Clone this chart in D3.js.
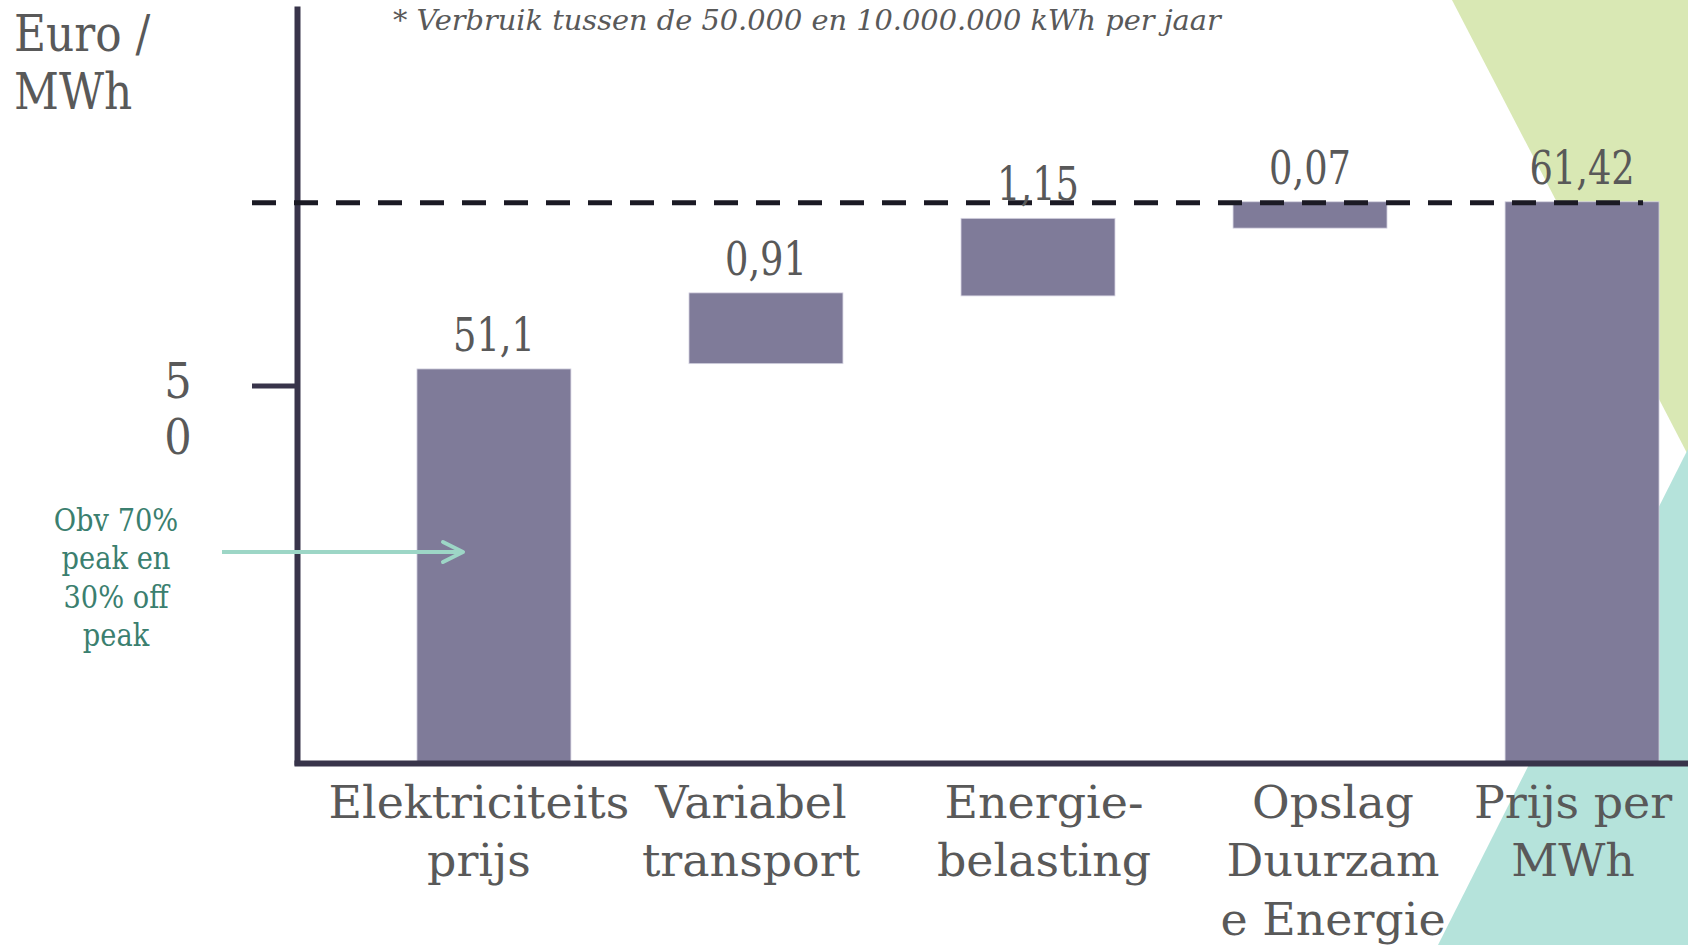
<!DOCTYPE html>
<html><head><meta charset="utf-8">
<script src="https://cdn.jsdelivr.net/npm/d3@7"></script>
<style>html,body{margin:0;padding:0;background:#fff;overflow:hidden} svg{display:block}</style>
</head><body>
<svg id="chart" width="1688" height="945"></svg>
<script>
// ---- data ----
const categories = ["Elektriciteits prijs", "Variabel transport", "Energie- belasting", "Opslag Duurzame Energie", "Prijs per MWh"];
const categoryLines = [["Elektriciteits", "prijs"], ["Variabel", "transport"], ["Energie-", "belasting"], ["Opslag", "Duurzam", "e Energie"], ["Prijs per", "MWh"]];
const valueLabels = ["51,1", "0,91", "1,15", "0,07", "61,42"];
// bar extents as drawn on the axis (Euro / MWh)
const barStart = [0, 52.9, 61.9, 70.9, 0];
const barEnd = [52.2, 62.3, 72.2, 74.4, 74.4];
const yTicks = [50];
const yTickLabelLines = [["5", "0"]];
const yAxisTitle = ["Euro /", "MWh"];
const footnote = "* Verbruik tussen de 50.000 en 10.000.000 kWh per jaar";
const annotationLines = ["Obv 70%", "peak en", "30% off", "peak"];

// ---- layout / styles ----
const FONT = "'DejaVu Serif', 'Liberation Serif', serif";
const TEXT = "#595959";
const AXIS = "#38344a";
const BAR = "#7f7b99";
const LABEL_DX = [-15, -15, 6, 23, -9]; // text boxes of the category labels are not centred on the bars

const svg = d3.select("#chart");
const W = 1688, H = 945;

// background shapes
svg.append("polygon").attr("points", [[1452,0],[W,0],[W,455]].join(" ")).attr("fill", "#d9e8b4");
svg.append("polygon").attr("points", [[W,449],[W,H],[1438,H]].join(" ")).attr("fill", "#b5e3db");

const x = d3.scaleBand().domain(categories).range([297, 1779]).paddingInner(0.434).paddingOuter(0.441);
const y = d3.scaleLinear().domain([0, 100]).range([762, 9]);

const data = categories.map((c, i) => ({c, i, lines: categoryLines[i], label: valueLabels[i], s: barStart[i], e: barEnd[i]}));

function scaledText(g, lines, cx, by, lineH, size, sx, opts = {}) {
  const t = g.append("text")
    .attr("transform", `translate(${cx},${by}) scale(${sx},1)`)
    .attr("font-family", FONT).attr("font-size", size)
    .attr("fill", opts.fill || TEXT)
    .attr("text-anchor", opts.anchor || "middle")
    .attr("font-style", opts.italic ? "italic" : null);
  lines.forEach((l, k) => t.append("tspan").attr("x", 0).attr("y", k * lineH).text(l));
  return t;
}

// bars
svg.append("g").selectAll("rect").data(data).join("rect")
  .attr("x", d => x(d.c)).attr("width", x.bandwidth())
  .attr("y", d => y(d.e)).attr("height", d => y(d.s) - y(d.e))
  .attr("fill", BAR).attr("stroke", "#d6d4e2").attr("stroke-width", 0.8);

// axes
const gy = svg.append("g").attr("transform", "translate(297,0)")
  .call(d3.axisLeft(y).tickValues(yTicks).tickSize(45).tickSizeOuter(0).tickFormat(""));
gy.select(".domain").attr("stroke", AXIS).attr("stroke-width", 6).attr("stroke-linecap", "square");
gy.selectAll(".tick line").attr("stroke", AXIS).attr("stroke-width", 5);
gy.selectAll(".tick").each(function(d, i) {
  scaledText(d3.select(this), yTickLabelLines[i], -119, 11.5, 57, 48, 0.9);
});

const gx = svg.append("g").attr("transform", "translate(0,763)")
  .call(d3.axisBottom(x).tickSize(0).tickSizeOuter(0).tickFormat(""));
gx.select(".domain").attr("stroke", AXIS).attr("stroke-width", 6).attr("stroke-linecap", "square");

// dashed total line
const total = barEnd[barEnd.length - 1];
svg.append("line")
  .attr("x1", 297 - 45).attr("x2", x(categories[4]) + x.bandwidth() - 16)
  .attr("y1", y(total) + 1).attr("y2", y(total) + 1)
  .attr("stroke", "#1b1a24").attr("stroke-width", 5).attr("stroke-dasharray", "24,18");

// value labels
data.forEach(d => scaledText(svg, [d.label], x(d.c) + x.bandwidth() / 2, y(d.e) - 18, 0, 46, 0.8));

// category labels
data.forEach(d => scaledText(svg, d.lines, x(d.c) + x.bandwidth() / 2 + LABEL_DX[d.i], 818, 58.5, 45, 1.02));

// y-axis title
scaledText(svg, yAxisTitle, 14, 51, 58, 51, 0.86, {anchor: "start"});

// footnote
scaledText(svg, [footnote], 393, 30, 0, 28, 1.03, {anchor: "start", italic: true});

// annotation
scaledText(svg, annotationLines, 116, 530.7, 38.5, 31, 0.88, {fill: "#3b7f6f"});
const ARROW = "#9dd6c6";
svg.append("line").attr("x1", 222).attr("x2", 462).attr("y1", 552).attr("y2", 552)
  .attr("stroke", ARROW).attr("stroke-width", 4);
svg.append("polyline").attr("points", "443,542 463,552 443,562").attr("fill", "none")
  .attr("stroke", ARROW).attr("stroke-width", 4).attr("stroke-linecap", "round").attr("stroke-linejoin", "round");
</script>
</body></html>
